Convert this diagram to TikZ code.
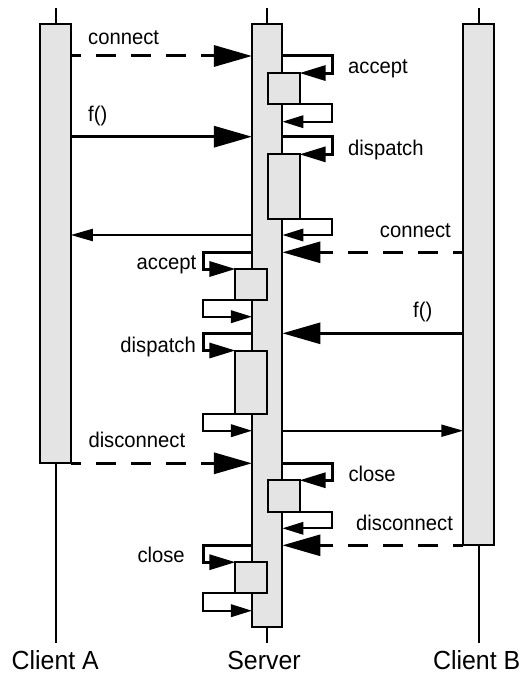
\documentclass[tikz,border=0pt]{standalone}
\usepackage{fontspec}
\setmainfont{Liberation Sans}[FakeStretch=0.95]
\usetikzlibrary{arrows.meta}
\definecolor{barfill}{RGB}{228,228,228}
\tikzset{
 bar/.style={draw, line width=2bp, fill=barfill, minimum width=30.5bp, inner sep=0pt, outer sep=0pt},
 act/.style={draw, line width=2bp, fill=barfill, minimum width=31.5bp, inner sep=0pt, outer sep=0pt},
 life/.style={line width=2bp},
 msg/.style={line width=3bp, -{Triangle[length=38bp,width=21bp]}},
 async/.style={msg, dash pattern=on 20bp off 15bp, dash phase=10bp},
 reply/.style={line width=2bp, -{Triangle[length=22bp,width=12bp]}},
 call/.style={line width=3bp, -{Triangle[length=26bp,width=15bp]}},
 ret/.style={line width=2bp, -{Triangle[length=21bp,width=12.5bp]}},
 lbl/.style={font=\fontsize{21.3bp}{25bp}\selectfont, inner sep=0pt},
 lifename/.style={font=\fontsize{26.2bp}{30bp}\selectfont, inner sep=0pt, anchor=base},
}
\begin{document}
\begin{tikzpicture}[x=1bp,y=-1bp]
\useasboundingbox (0,0) rectangle (524,674);
% bars
\node[bar, minimum height=439.3bp] (ca) at (55.5,243.65) {};
\node[bar, minimum height=602.7bp] (sv) at (267.2,325.35) {};
\node[bar, minimum height=521.3bp] (cb) at (478.5,284.65) {};
% lifelines
\coordinate (caT) at (55.5,8);
\coordinate (svT) at (267.2,8);
\coordinate (cbT) at (478.5,8);
\coordinate (caB) at (55.5,643);
\coordinate (svB) at (267.2,643);
\coordinate (cbB) at (478.5,643);
\draw[life] (caT) -- (ca.north);
\draw[life] (svT) -- (sv.north);
\draw[life] (cbT) -- (cb.north);
\draw[life] (ca.south) -- (caB);
\draw[life] (sv.south) -- (svB);
\draw[life] (cb.south) -- (cbB);
% activation boxes
\node[act, minimum height=30.5bp] (acc1) at (283.8,88.3) {};
\node[act, minimum height=64.7bp] (dis1) at (283.8,186.7) {};
\node[act, minimum height=31bp] (acc2) at (251.2,284.5) {};
\node[act, minimum height=63bp] (dis2) at (251.2,382) {};
\node[act, minimum height=31.5bp] (cls1) at (283.8,496) {};
\node[act, minimum height=31bp] (cls2) at (251.2,577.7) {};
% messages
\draw[async] (ca.east |- 0,56) -- (sv.west |- 0,56);
\draw[msg] (ca.east |- 0,136.7) -- (sv.west |- 0,136.7);
\draw[reply] (sv.west |- 0,235) -- (ca.east |- 0,235);
\draw[async] (cb.west |- 0,252.3) -- (sv.east |- 0,252.3);
\draw[msg] (cb.west |- 0,333.3) -- (sv.east |- 0,333.3);
\draw[reply] (sv.east |- 0,430.7) -- (cb.west |- 0,430.7);
\draw[async] (ca.south east) -- (sv.west |- ca.south);
\draw[async] (cb.south west) -- (sv.east |- cb.south);
% self calls (right side)
\draw[call] (sv.east |- 0,56) -- (332,56) |- (acc1.north east);
\draw[ret] (acc1.south east) -| (332,121.7) -- (sv.east |- 0,121.7);
\draw[call] (sv.east |- 0,136.7) -- (332,136.7) |- (dis1.north east);
\draw[ret] (dis1.south east) -| (332,235) -- (sv.east |- 0,235);
\draw[call] (sv.east |- 0,463.3) -- (332,463.3) |- (cls1.north east);
\draw[ret] (cls1.south east) -| (332,528.3) -- (sv.east |- 0,528.3);
% self calls (left side)
\draw[call] (sv.west |- 0,252.3) -- (203,252.3) |- (acc2.north west);
\draw[ret] (acc2.south west) -| (203,316.7) -- (sv.west |- 0,316.7);
\draw[call] (sv.west |- 0,333.3) -- (203,333.3) |- (dis2.north west);
\draw[ret] (dis2.south west) -| (203,430.7) -- (sv.west |- 0,430.7);
\draw[call] (sv.west |- 0,545.3) -- (203,545.3) |- (cls2.north west);
\draw[ret] (cls2.south west) -| (203,610.7) -- (sv.west |- 0,610.7);
% labels
\node[lbl, anchor=base west] (l1) at (88,45) {connect};
\node[lbl, anchor=base west] (l2) at (88,122) {f()};
\node[lbl, anchor=base west] (l3) at (348,74) {accept};
\node[lbl, anchor=base west] (l4) at (348,155.5) {dispatch};
\node[lbl, anchor=base east] (l5) at (451,237) {connect};
\node[lbl, anchor=base east] (l6) at (196.5,269) {accept};
\node[lbl, anchor=base west] (l7) at (413,317) {f()};
\node[lbl, anchor=base east] (l8) at (196,352) {dispatch};
\node[lbl, anchor=base west] (l9) at (88.3,447) {disconnect};
\node[lbl, anchor=base west] (l10) at (348.3,481.5) {close};
\node[lbl, anchor=base west] (l11) at (356,530.7) {disconnect};
\node[lbl, anchor=base west] (l12) at (137.3,562.7) {close};
% lifeline names
\node[lifename] (nA) at (55.3,669.3) {Client A};
\node[lifename] (nS) at (264,669.3) {Server};
\node[lifename] (nB) at (476.7,669.3) {Client B};
\end{tikzpicture}
\end{document}
